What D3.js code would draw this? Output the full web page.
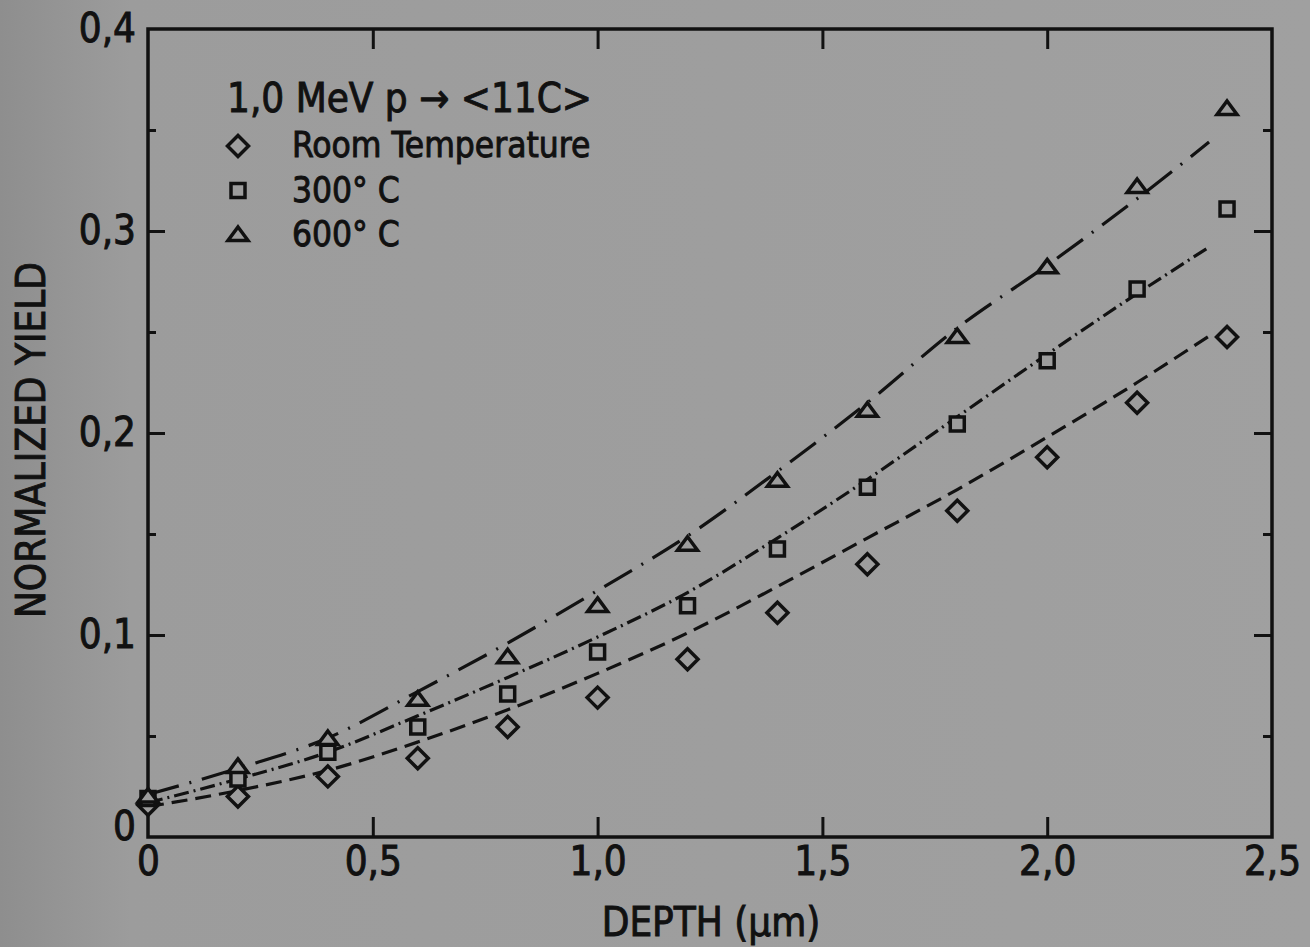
<html>
<head>
<meta charset="UTF-8">
<script src="https://cdn.jsdelivr.net/npm/d3@7"></script>
<style>
	body { margin: 0; background: #9c9c9c; }
	svg text { font-family: "DejaVu Sans Condensed", "DejaVu Sans", sans-serif; font-stretch: condensed; fill: #111; stroke: #111; stroke-width: 0.9; }
	.frame { fill: none; stroke: #111; stroke-width: 3.5; }
	.tick line { stroke: #111; stroke-width: 3; }
	path.fit { fill: none; stroke: #121212; stroke-width: 3.2; }
	path.mark { fill: #9d9d9d; stroke: #111; stroke-width: 3.5; stroke-linejoin: miter; }
</style>
</head>
<body>
<div id="chart"></div>
<script>
// measured points
var depth = [0, 0.2, 0.4, 0.6, 0.8, 1.0, 1.2, 1.4, 1.6, 1.8, 2.0, 2.2, 2.4];
var roomTemp = [0.016, 0.020, 0.030, 0.039, 0.0545, 0.069, 0.088, 0.111, 0.135, 0.1615, 0.188, 0.215, 0.2475];
var temp300 = [0.019, 0.0287, 0.042, 0.0545, 0.0708, 0.0916, 0.1145, 0.1426, 0.1731, 0.2045, 0.2358, 0.2713, 0.3109];
var temp600 = [0.020, 0.0347, 0.0485, 0.068, 0.089, 0.1144, 0.1447, 0.1764, 0.211, 0.2475, 0.282, 0.3218, 0.3604];

// fitted curves
var fitDepth = [0, 0.2, 0.4, 0.6, 0.8, 1.0, 1.2, 1.4, 1.6, 1.8, 2.0, 2.2, 2.36];
var fitRoom = [0.015, 0.023, 0.033, 0.047, 0.063, 0.081, 0.101, 0.124, 0.148, 0.172, 0.198, 0.225, 0.248];
var fit300 = [0.017, 0.0287, 0.042, 0.060, 0.079, 0.099, 0.121, 0.148, 0.177, 0.208, 0.239, 0.269, 0.292];
var fit600 = [0.021, 0.034, 0.049, 0.072, 0.096, 0.122, 0.149, 0.181, 0.215, 0.252, 0.283, 0.316, 0.344];

var xTicks = [0, 0.5, 1.0, 1.5, 2.0, 2.5];
var yTicks = [0, 0.1, 0.2, 0.3, 0.4];
var yMinor = [0.05, 0.15, 0.25, 0.35];

var legendTitle = "1,0 MeV p \u2192 <11C>";
var seriesNames = ["Room Temperature", "300\u00b0 C", "600\u00b0 C"];

(function(d3) {
	var W = 1310, H = 947;
	var svg = d3.select("#chart").append("svg").attr("width", W).attr("height", H);

	var grad = svg.append("defs").append("linearGradient").attr("id", "bg");
	grad.append("stop").attr("offset", "0%").attr("stop-color", "#8e8e8e");
	grad.append("stop").attr("offset", "10%").attr("stop-color", "#9c9c9c");
	grad.append("stop").attr("offset", "100%").attr("stop-color", "#a0a0a0");
	svg.append("rect").attr("width", W).attr("height", H).attr("fill", "url(#bg)");

	var x = d3.scaleLinear().domain([0, 2.5]).range([148, 1272]);
	var y = d3.scaleLinear().domain([0, 0.4]).range([837, 29]);

	var fmt = function(d) { return d === 0 ? "0" : d3.format(".1f")(d).replace(".", ","); };

	function styleAxis(g, size) {
		g.select(".domain").remove();
		g.selectAll("text").attr("font-size", size).attr("font-family", null).attr("fill", null);
		g.attr("font-family", null).attr("font-size", null);
	}

	// bottom
	var gb = svg.append("g").attr("transform", "translate(0," + y(0) + ")")
		.call(d3.axisBottom(x).tickValues(xTicks).tickSizeInner(-20).tickSizeOuter(0).tickPadding(10).tickFormat(fmt));
	gb.selectAll(".tick line").filter(function(d) { return d === 0 || d === 2.5; }).remove();
	styleAxis(gb, 40);

	// top
	var gt = svg.append("g").attr("transform", "translate(0," + y(0.4) + ")")
		.call(d3.axisTop(x).tickValues(xTicks.slice(1, -1)).tickSize(-20).tickFormat(""));
	styleAxis(gt, 40);

	// left
	var gl = svg.append("g").attr("transform", "translate(" + x(0) + ",0)")
		.call(d3.axisLeft(y).tickValues(yTicks).tickSizeInner(-17).tickSizeOuter(0).tickPadding(12).tickFormat(fmt));
	gl.selectAll(".tick line").filter(function(d) { return d === 0 || d === 0.4; }).remove();
	gl.selectAll(".tick text").filter(function(d) { return d === 0; }).attr("dy", "0.05em");
	styleAxis(gl, 40);
	var glm = svg.append("g").attr("transform", "translate(" + x(0) + ",0)")
		.call(d3.axisLeft(y).tickValues(yMinor).tickSize(-8).tickFormat(""));
	styleAxis(glm, 40);

	// right
	var gr = svg.append("g").attr("transform", "translate(" + x(2.5) + ",0)")
		.call(d3.axisRight(y).tickValues(yTicks.slice(1, -1)).tickSize(-18).tickFormat(""));
	styleAxis(gr, 40);
	var grm = svg.append("g").attr("transform", "translate(" + x(2.5) + ",0)")
		.call(d3.axisRight(y).tickValues(yMinor).tickSize(-9).tickFormat(""));
	styleAxis(grm, 40);

	svg.append("rect").attr("class", "frame")
		.attr("x", x(0)).attr("y", y(0.4))
		.attr("width", x(2.5) - x(0)).attr("height", y(0) - y(0.4));

	// axis titles
	svg.append("text").attr("x", 711).attr("y", 936).attr("text-anchor", "middle")
		.attr("font-size", 40).text("DEPTH (\u00b5m)");
	svg.append("text").attr("transform", "translate(45,440) rotate(-90)").attr("text-anchor", "middle")
		.attr("font-size", 40).text("NORMALIZED YIELD");

	// fitted curves
	var line = d3.line()
		.x(function(d) { return x(d[0]); })
		.y(function(d) { return y(d[1]); })
		.curve(d3.curveMonotoneX);

	var fits = [
		{ vals: fitRoom, dash: "16,8" },
		{ vals: fit300, dash: "15,5,2,5" },
		{ vals: fit600, dash: "32,11,2,11" }
	];
	svg.selectAll("path.fit")
		.data(fits).enter()
		.append("path")
		.attr("class", "fit")
		.attr("stroke-dasharray", function(f) { return f.dash; })
		.attr("d", function(f) { return line(fitDepth.map(function(d, i) { return [d, f.vals[i]]; })); });

	// marker shapes
	var shapes = [
		"M0,-10.5L10.5,0L0,10.5L-10.5,0Z",
		"M-7,-7H7V7H-7Z",
		"M0,-8L10,5.5L-10,5.5Z"
	];
	var series = [roomTemp, temp300, temp600];

	series.forEach(function(vals, s) {
		svg.selectAll("path.m" + s)
			.data(vals).enter()
			.append("path")
			.attr("class", "mark m" + s)
			.attr("transform", function(v, i) { return "translate(" + x(depth[i]) + "," + y(v) + ")"; })
			.attr("d", shapes[s]);
	});

	// legend
	var leg = svg.append("g");
	leg.append("text").attr("x", 227).attr("y", 112).attr("font-size", 40).text(legendTitle);
	var rows = leg.selectAll("g.row")
		.data(seriesNames).enter()
		.append("g")
		.attr("transform", function(d, i) { return "translate(0," + (146 + i * 44.5) + ")"; });
	rows.append("path").attr("class", "mark")
		.attr("transform", "translate(238,0)")
		.attr("d", function(d, i) { return shapes[i]; });
	rows.append("text").attr("x", 292).attr("y", 11).attr("font-size", 35)
		.text(function(d) { return d; });
})(window.d3);
</script>
</body>
</html>
